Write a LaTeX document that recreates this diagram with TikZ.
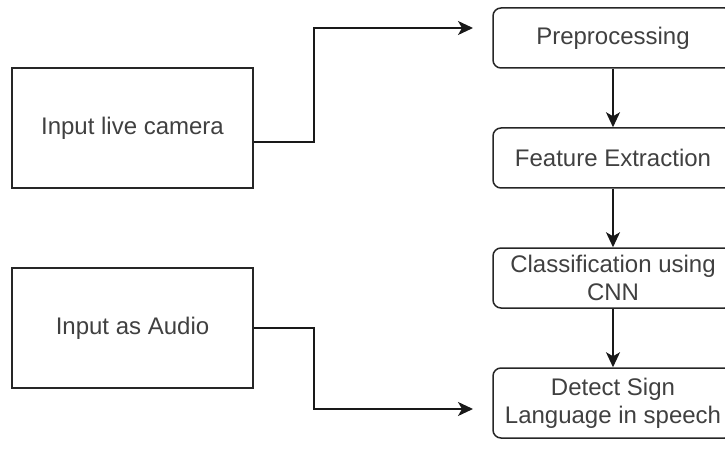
\documentclass[tikz,border=0pt]{standalone}
\usepackage{fontspec}
\setmainfont{Liberation Sans}
\usetikzlibrary{arrows.meta}
\begin{document}
\begin{tikzpicture}[x=1pt,y=-1pt,
  inbox/.style={draw=black!85, line width=1.5pt, minimum width=241pt, minimum height=120pt, inner sep=0pt,
    text=black!75, font=\fontsize{24}{28}\selectfont},
  stagebox/.style={draw=black!85, line width=1.5pt, rounded corners=8pt, minimum width=240pt, inner sep=0pt,
    text=black!75, align=center, font=\fontsize{24}{28}\selectfont},
  arr/.style={draw=black!90, line width=1.5pt, -{Stealth[length=15pt,width=14pt,inset=4pt]}}]
\useasboundingbox (0,0) rectangle (725,449);
\begin{scope}
\clip (0,0) rectangle (725,449);
\node[inbox] (cam) at (132.5,128) {Input live camera};
\node[inbox] (aud) at (132.5,328) {Input as Audio};
\node[stagebox, minimum height=60pt] (pre) at (613,38) {Preprocessing};
\node[stagebox, minimum height=60pt] (fea) at (613,158) {Feature Extraction};
\node[stagebox, minimum height=60pt] (cls) at (613,278) {Classification using\\CNN};
\node[stagebox, minimum height=70pt] (det) at (613,403) {Detect Sign\\Language in speech};
\coordinate (p1) at (473,28);
\coordinate (p2) at (473,409);
\draw[arr] ([yshift=-14pt]cam.east) -- ++(60,0) |- (p1);
\draw[arr] (aud.east) -- ++(60,0) |- (p2);
\draw[arr] (pre.south) -- (fea.north);
\draw[arr] (fea.south) -- (cls.north);
\draw[arr] (cls.south) -- (det.north);
\end{scope}
\end{tikzpicture}
\end{document}
